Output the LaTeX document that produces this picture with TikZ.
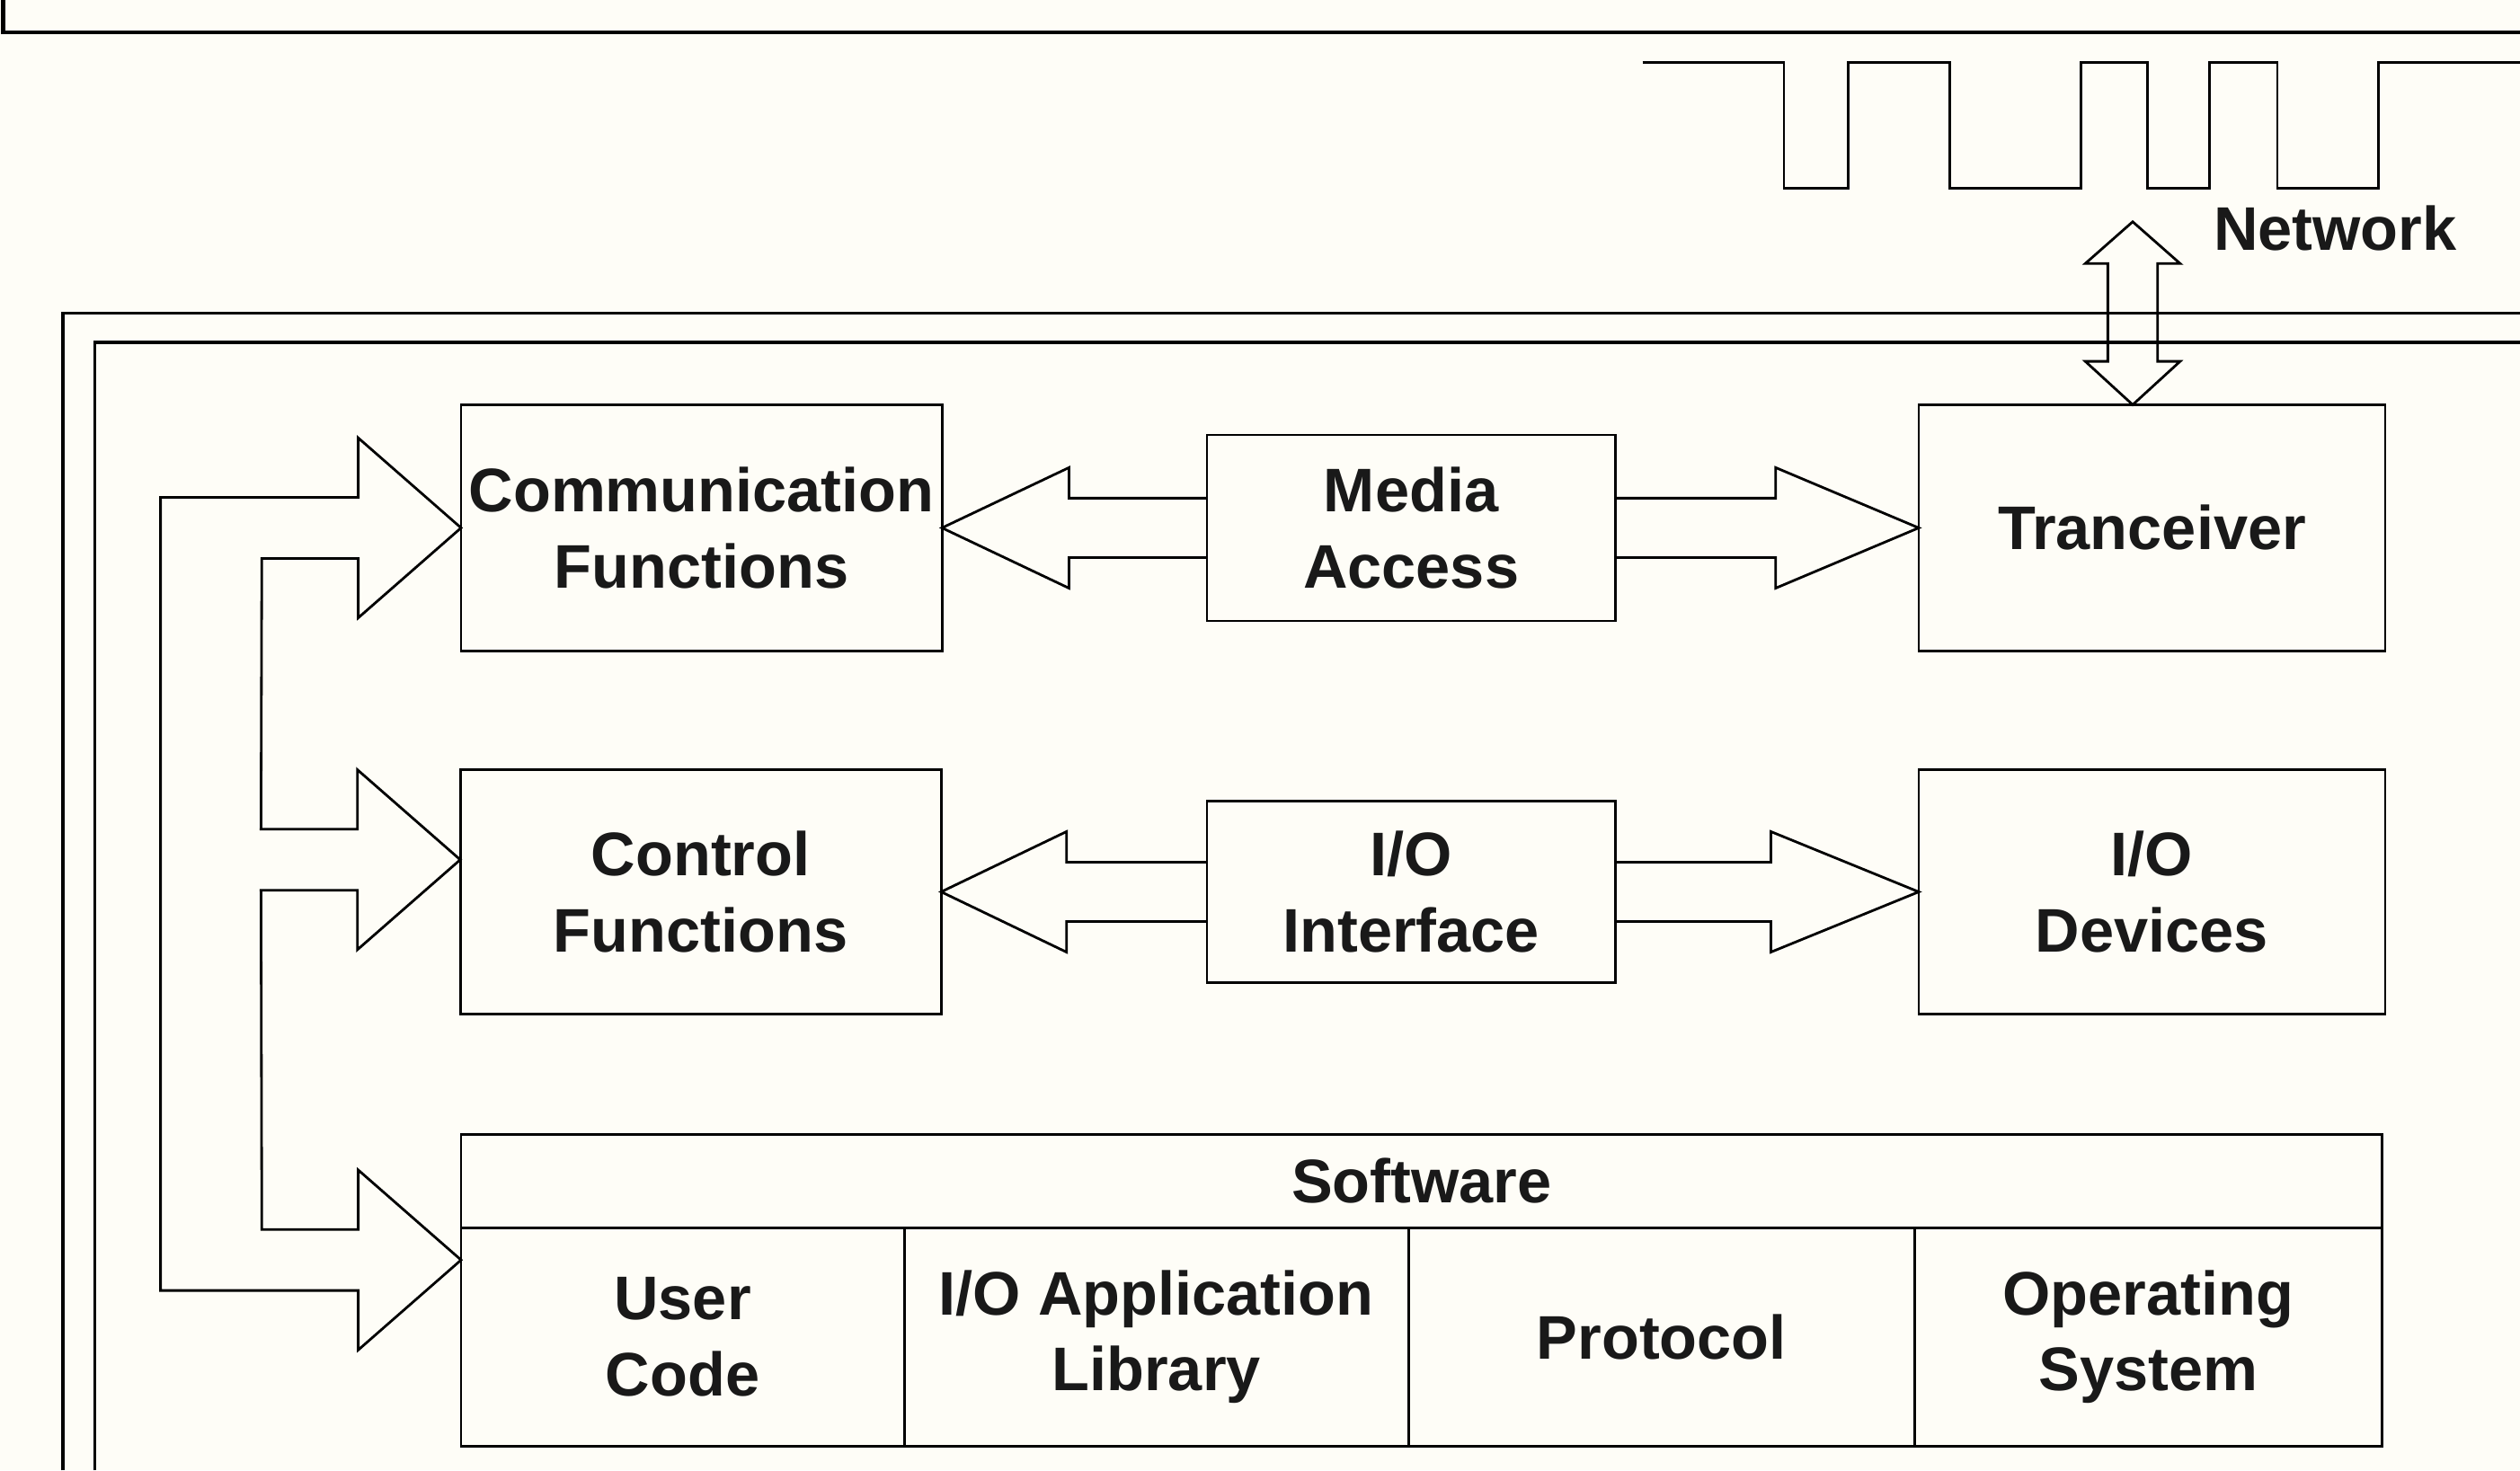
\documentclass[tikz,border=0pt]{standalone}
\usepackage{fontspec}
\setmainfont{Liberation Sans}
\usetikzlibrary{calc,positioning}
\definecolor{paper}{RGB}{254,253,247}
\tikzset{
  blk/.style={draw, align=center, inner sep=0.5mm, outer sep=0pt, font=\fontsize{19.5}{24}\selectfont\bfseries},
  cell/.style={blk, minimum height=24.3mm},
  lbl/.style={font=\fontsize{19.5}{24}\selectfont\bfseries},
}
\begin{document}
\begin{tikzpicture}[x=1.788mm, y=-1.788mm, line width=0.8pt, text=black!90]
  \useasboundingbox (0,0) rectangle (156.8,91.5);
  \fill[paper] (0,0) rectangle (156.8,91.5);

  % page rule and double frame
  \draw[line width=1.2pt] (0.2,0) -- (0.2,2.0) -- (156.8,2.0);
  \draw[line width=1pt] (3.9,91.5) -- (3.9,19.5) -- (156.8,19.5);
  \draw[line width=1pt] (5.9,91.5) -- (5.9,21.3) -- (156.8,21.3);

  % boxes
  \node[blk, minimum width=53.5mm, minimum height=27.4mm] (comm) at (43.65,32.85) {Communication\\Functions};
  \node[blk, minimum width=53.5mm, minimum height=27.2mm] (ctrl) at (43.6,55.5) {Control\\Functions};
  \node[blk, minimum width=45.4mm, minimum height=20.7mm] (media) at (87.8,32.85) {Media\\Access};
  \node[blk, minimum width=45.4mm, minimum height=20.2mm] (iface) at (87.8,55.5) {I/O\\Interface};
  \node[blk, minimum width=51.9mm, minimum height=27.4mm] (trans) at (133.9,32.85) {Tranceiver};
  \node[blk, minimum width=51.9mm, minimum height=27.2mm] (dev) at (133.9,55.5) {I/O\\Devices};

  \node[blk, minimum width=213.7mm, minimum height=10.4mm] (swhead) at (88.45,73.5) {Software};
  \node[cell, minimum width=49.3mm, anchor=north west] (user) at (swhead.south west) {User\\Code};
  \node[cell, minimum width=56.1mm, right=0pt of user] (lib) {I/O Application\\Library};
  \node[cell, minimum width=56.3mm, right=0pt of lib] (proto) {Protocol};
  \node[cell, minimum width=52.0mm, right=0pt of proto] (os) {Operating\\System};

  % hollow arrows between the rows
  \foreach \src/\dst/\hl in {media.west/comm.east/7.9, iface.west/ctrl.east/7.8, media.east/trans.west/-8.9, iface.east/dev.west/-9.2}
    \draw ($(\src)+(0,-1.85)$) -- ($(\dst)+(\hl,-1.85)$) -- ($(\dst)+(\hl,-3.75)$) -- (\dst)
      -- ($(\dst)+(\hl,3.75)$) -- ($(\dst)+(\hl,1.85)$) -- ($(\src)+(0,1.85)$);

  % feedback arrows on the left
  \coordinate (t1) at (comm.west);
  \coordinate (t2) at ($(ctrl.west)+(0,-2)$);
  \coordinate (t3) at ($(user.north west)+(0,2)$);
  \draw (t1) -- ++(-6.4,-5.6) -- ++(0,3.7) -- ($(t1)+(-18.7,-1.9)$) -- ($(t3)+(-18.7,1.9)$)
    -- ++(12.3,0) -- ++(0,3.7) -- (t3) -- ++(-6.4,-5.6) -- ++(0,3.7) -- ($(t3)+(-12.4,-1.9)$)
    -- ($(t2)+(-12.4,1.9)$) -- ++(6,0) -- ++(0,3.7) -- (t2) -- ++(-6.4,-5.6) -- ++(0,3.7)
    -- ($(t2)+(-12.4,-1.9)$) -- ($(t1)+(-12.4,1.9)$) -- ++(6,0) -- ++(0,3.7) -- cycle;

  % network signal
  \draw (102.2,3.9) -| (111,11.7) -| (115,3.9) -| (121.3,11.7) -| (129.5,3.9) -| (133.6,11.7)
    -| (137.5,3.9) -| (141.7,11.7) -| (148,3.9) -- (156.8,3.9);
  \node[lbl] (netlbl) at (145.3,14.2) {Network};

  % up/down arrow to the network
  \coordinate (net) at (132.7,13.8);
  \coordinate (nb) at ($(trans.north)+(-1.2,0)$);
  \draw (net) -- ($(net)+(2.95,2.6)$) -- ($(net)+(1.55,2.6)$) -- ($(nb)+(1.55,-2.7)$) -- ($(nb)+(2.95,-2.7)$)
    -- (nb) -- ($(nb)+(-2.95,-2.7)$) -- ($(nb)+(-1.55,-2.7)$) -- ($(net)+(-1.55,2.6)$) -- ($(net)+(-2.95,2.6)$) -- cycle;
\end{tikzpicture}
\end{document}
